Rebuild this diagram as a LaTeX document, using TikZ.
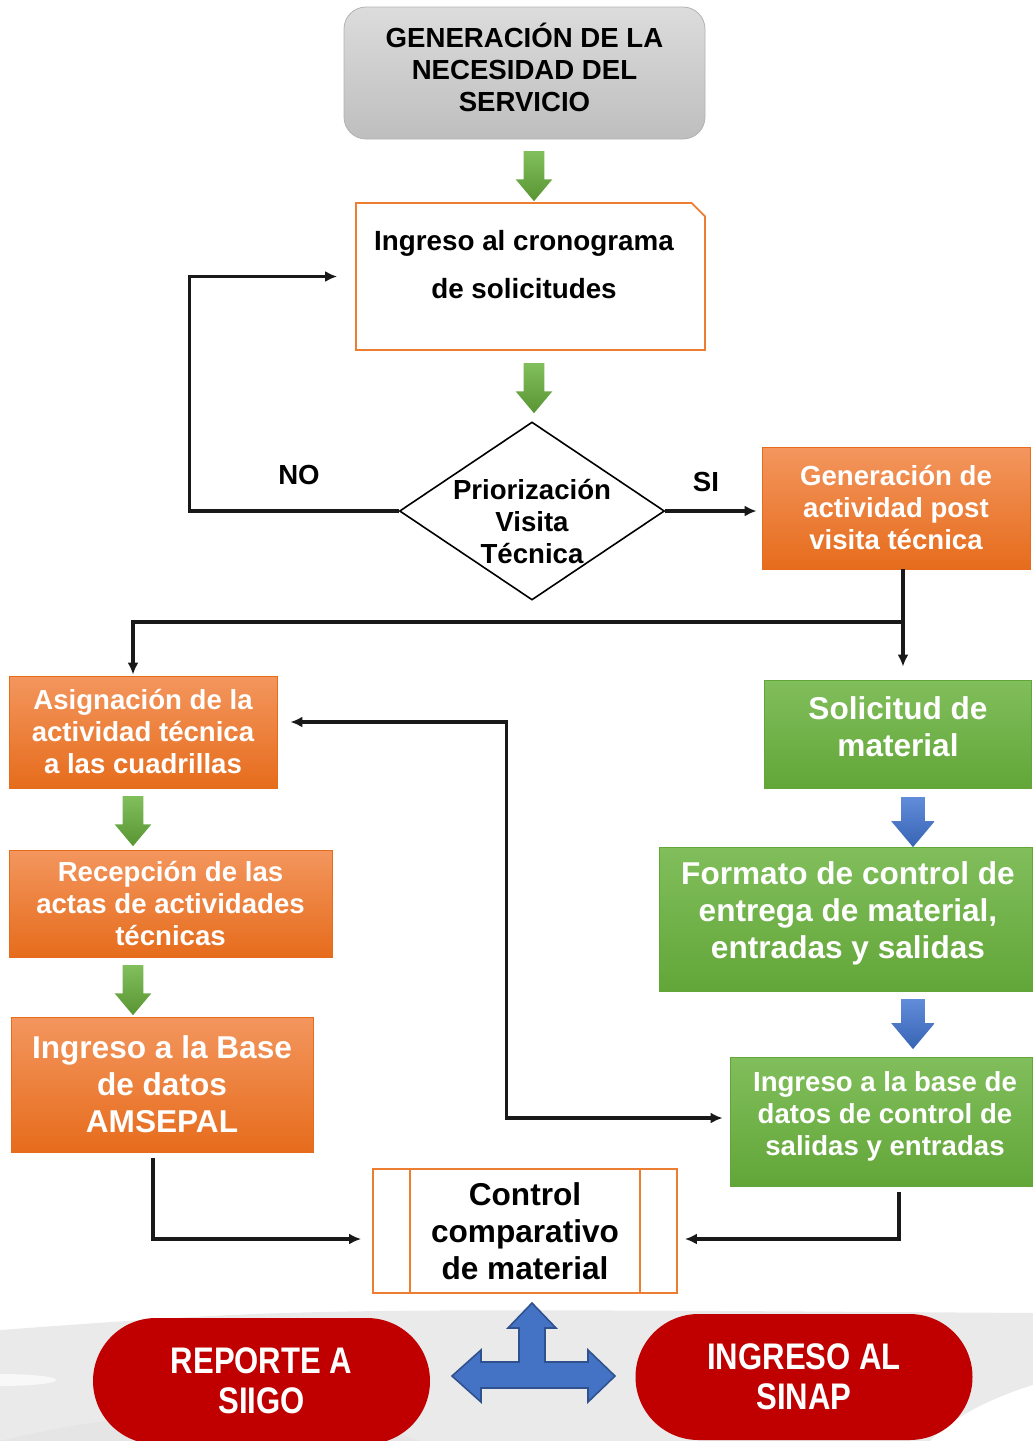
\documentclass[tikz,border=0pt]{standalone}
\usepackage{fontspec}
\setmainfont{Liberation Sans}
\newfontfamily\narrowfont[FakeStretch=0.84]{Liberation Sans}
\usetikzlibrary{arrows.meta,shapes.arrows,shapes.geometric,shapes.misc}

\definecolor{orangeT}{RGB}{243,150,94}
\definecolor{orangeB}{RGB}{230,108,28}
\definecolor{orangeLn}{RGB}{237,125,49}
\definecolor{greenT}{RGB}{129,190,92}
\definecolor{greenB}{RGB}{98,166,56}
\definecolor{blueT}{RGB}{96,140,218}
\definecolor{blueB}{RGB}{56,100,180}
\definecolor{blueFill}{RGB}{68,114,196}
\definecolor{blueLn}{RGB}{47,82,143}
\definecolor{grayT}{RGB}{220,220,220}
\definecolor{grayB}{RGB}{190,190,190}
\definecolor{redbox}{RGB}{192,0,0}
\definecolor{backgray}{RGB}{234,234,234}

\begin{document}
\begin{tikzpicture}[x=0.5pt,y=-0.5pt,>={Latex[length=6pt,width=5.5pt]},
    smalltxt/.style={font=\fontsize{13.8}{16}\selectfont\bfseries},
    bigtxt/.style={font=\fontsize{15.8}{18.5}\selectfont\bfseries},
    obox/.style={top color=orangeT,bottom color=orangeB,draw=orangeB,
        text=white,align=center,inner sep=0pt},
    gbox/.style={top color=greenT,bottom color=greenB,draw=greenB,
        inner sep=0pt},
    garrow/.style={single arrow,shape border rotate=270,draw=none,
        top color=greenT,bottom color=greenB!90!black,
        minimum height=25pt,minimum width=18pt,inner sep=5pt,
        single arrow head extend=4pt,single arrow tip angle=80},
    barrow/.style={garrow,top color=blueT,bottom color=blueB,
        minimum width=21.5pt,inner sep=5.75pt,single arrow head extend=5pt},
    redpill/.style={rounded rectangle,fill=redbox,text=white,align=center,
        minimum width=168.5pt,minimum height=63pt,inner sep=0pt,
        font=\fontsize{18.5}{20}\selectfont\narrowfont\bfseries},
    line/.style={draw=black!90,line width=1.6pt}]

    \useasboundingbox (0,0) rectangle (1033,1441);

    % fondo inferior
    \fill[backgray] (0,1330) .. controls (300,1308) .. (1033,1313)
        -- (1033,1441) -- (0,1441) -- cycle;
    \fill[white] (1033,1385) .. controls (985,1400) and (950,1420) .. (930,1441)
        -- (1033,1441) -- cycle;
    \fill[white,opacity=0.7] (0,1380) ellipse [x radius=28pt,y radius=3pt];
    \fill[black!10] (0,1441) .. controls (150,1405) and (300,1400) .. (420,1441) -- cycle;

    % inicio
    \node[rounded corners=11pt,top color=grayT,bottom color=grayB,draw=black!30,
        minimum width=180.5pt,minimum height=66pt] (necesidad) at (524.5,73) {};
    \node[smalltxt,align=center] (nectxt) at (524.5,67)
        {GENERACIÓN DE LA\\NECESIDAD DEL\\SERVICIO};
    \node[garrow] (g1) at (534,170) {};

    \node[chamfered rectangle,chamfered rectangle corners=north east,
        chamfered rectangle xsep=12pt,chamfered rectangle ysep=11pt,
        draw=orangeLn,line width=0.9pt,minimum width=174.5pt,minimum height=73.5pt]
        (crono) at (530.5,276.5) {};
    \node[align=center,font=\fontsize{13.9}{24}\selectfont\bfseries]
        (cronotxt) at (524,265) {Ingreso al cronograma\\de solicitudes};
    \node[garrow] (g2) at (534,382) {};

    % decision
    \node[diamond,draw,line width=0.8pt,minimum width=132.5pt,minimum height=89pt,
        inner sep=0pt] (prio) at (532,511) {};
    \node[smalltxt,align=center] (priotxt) at (532,522) {Priorización\\Visita\\Técnica};

    \node[smalltxt] (no) at (299,475) {NO};
    \node[smalltxt] (si) at (706,482) {SI};

    \node[obox,smalltxt,minimum width=134pt,minimum height=61pt]
        (gen) at (896,508) {Generación de\\actividad post\\visita técnica};

    \draw[line,->] (prio.west) -- ++(-209,0) |- ([xshift=-9pt]crono.west);
    \draw[line,->] (prio.east) -- ([xshift=-2.5pt]prio.east -| gen.west);

    % rama izquierda
    \node[obox,smalltxt,minimum width=134pt,minimum height=56pt]
        (asig) at (143,732) {Asignación de la\\actividad técnica\\a las cuadrillas};
    \node[garrow] (g3) at (133,815) {};
    \node[obox,smalltxt,minimum width=161.5pt,minimum height=53.5pt]
        (recep) at (170.5,903.5) {Recepción de las\\actas de actividades\\técnicas};
    \node[garrow] (g4) at (133,984) {};
    \node[obox,bigtxt,minimum width=151pt,minimum height=67.5pt]
        (amsepal) at (162,1084.5) {Ingreso a la Base\\de datos\\AMSEPAL};

    % rama derecha
    \node[gbox,minimum width=133.5pt,minimum height=54pt] (sol) at (897.5,734) {};
    \node[bigtxt,text=white,align=center] (soltxt) at (898,727) {Solicitud de\\material};
    \node[barrow] (b1) at (913,815) {};
    \node[gbox,minimum width=186.5pt,minimum height=72pt] (formato) at (845.5,919) {};
    \node[bigtxt,text=white,align=center] (formtxt) at (848,913)
        {Formato de control de\\entrega de material,\\entradas y salidas};
    \node[barrow] (b2) at (913,1017) {};
    \node[gbox,minimum width=151pt,minimum height=64.5pt] (ingbase) at (881,1121.5) {};
    \node[smalltxt,text=white,align=center] (ingtxt) at (885,1116)
        {Ingreso a la base de\\datos de control de\\salidas y entradas};

    \coordinate (split) at (903,622);
    \draw[line,->] (gen.south -| split) -- ([yshift=6.5pt]sol.north -| split);
    \draw[line,->] (split) -| ([xshift=-5pt,yshift=0.5pt]asig.north);

    \draw[line,<->] ([xshift=6.5pt,yshift=5pt]asig.east) -- ++(216,0)
        |- ([xshift=-3.5pt,yshift=1.75pt]ingbase.west);

    % control
    \node[draw=orangeLn,line width=0.9pt,minimum width=152pt,minimum height=62pt,
        align=center,bigtxt] (control) at (525,1231)
        {Control\\comparativo\\de material};
    \draw[orangeLn,line width=0.9pt] ([xshift=19pt]control.north west)
        -- ([xshift=19pt]control.south west);
    \draw[orangeLn,line width=0.9pt] ([xshift=-19pt]control.north east)
        -- ([xshift=-19pt]control.south east);

    \draw[line,->] ([xshift=-4.5pt,yshift=-3pt]amsepal.south)
        |- ([xshift=-5.5pt,yshift=-4pt]control.west);
    \draw[line,->] ([xshift=9pt,yshift=-3pt]ingbase.south)
        |- ([xshift=3.5pt,yshift=-4pt]control.east);

    % salidas
    \draw[fill=blueFill,draw=blueLn,line width=0.8pt]
        (532,1303) -- (556,1328) -- (545,1328) -- (545,1362) -- (588,1362)
        -- (588,1350) -- (615,1376) -- (588,1402) -- (588,1388) -- (481,1388)
        -- (481,1402) -- (452,1376) -- (481,1350) -- (481,1362) -- (519,1362)
        -- (519,1328) -- (508,1328) -- cycle;

    \node[redpill] (siigo) at (261.5,1381) {REPORTE A\\SIIGO};
    \node[redpill] (sinap) at (804,1377) {INGRESO AL\\SINAP};
\end{tikzpicture}
\end{document}
